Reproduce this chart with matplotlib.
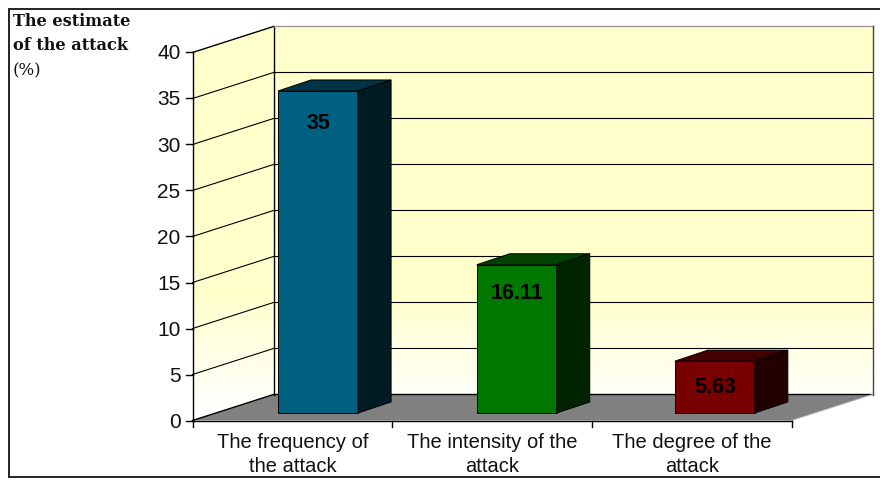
import numpy as np
import matplotlib
matplotlib.use('Agg')
import matplotlib.pyplot as plt
from matplotlib.patches import Polygon, Rectangle

categories = ['The frequency of\nthe attack', 'The intensity of the\nattack', 'The degree of the\nattack']
values = [35, 16.11, 5.63]
value_labels = ['35', '16.11', '5.63']
yticks = [0, 5, 10, 15, 20, 25, 30, 35, 40]
front_colors = ['#006080', '#007800', '#780000']
top_colors = ['#003545', '#004200', '#420000']
side_colors = ['#001c22', '#002400', '#220000']

W, H = 880, 483
# px per data unit
ux = 199.67
uy = 9.2
x0, y0 = 192.5, 420.5
# depth of the 3d box in data units
dx = 81 / ux
dy = 26 / uy
bar_w = 80 / ux
bar_left = [0.311, 1.306, 2.298]
bar_d0 = 0.29
label_drop = [33, 29, 26]

plt.rcParams['font.family'] = ['Liberation Sans', 'DejaVu Sans']
fig = plt.figure(figsize=(W / 100, H / 100), dpi=100)
ax = fig.add_axes([0, 0, 1, 1])
ax.set_xlim(-x0 / ux, (W - x0) / ux)
ax.set_ylim(-(H - y0) / uy, y0 / uy)
ax.axis('off')

to_x = lambda p: (p - x0) / ux
to_y = lambda p: (y0 - p) / uy

# outer frame, runs off the right side of the picture
ax.add_patch(Rectangle((to_x(8.5), to_y(477)), (890 - 8.5) / ux, (477 - 9) / uy,
                       fc='white', ec='#222222', lw=1.4, zorder=0))

# walls with gradient
ymax = yticks[-1]
xmax = 3
grad = np.ones((200, 1, 3))
t = np.clip((np.linspace(0, 1, 200) - 0.68) / 0.30, 0, 1)  # 0 top, 1 bottom
c1 = np.array([255, 255, 204]) / 255
for i in range(3):
    grad[:, 0, i] = c1[i] + (1 - c1[i]) * t

side = Polygon([(0, 0), (dx, dy), (dx, ymax + dy), (0, ymax)], closed=True, fc='none', ec='none')
back = Polygon([(dx, dy), (xmax + dx, dy), (xmax + dx, ymax + dy), (dx, ymax + dy)], closed=True, fc='none', ec='none')
for poly in (side, back):
    ax.add_patch(poly)
    im = ax.imshow(grad, extent=(0, xmax + dx, 0, ymax + dy), aspect='auto', zorder=1)
    im.set_clip_path(poly)
ax.set_xlim(-x0 / ux, (W - x0) / ux)
ax.set_ylim(-(H - y0) / uy, y0 / uy)

# floor
ax.add_patch(Polygon([(0, 0), (dx, dy), (xmax + dx, dy), (xmax, 0)], closed=True, fc='#808080', ec='none', zorder=2))

# gridlines
for v in yticks[1:-1]:
    ax.plot([0, dx, xmax + dx], [v, v + dy, v + dy], color='black', lw=0.8, zorder=3)
ax.plot([0, dx, xmax + dx], [0, dy, dy], color='black', lw=1.0, zorder=3)
ax.plot([dx, dx], [dy, ymax + dy], color='black', lw=1.0, zorder=3)
ax.plot([0, dx], [ymax, ymax + dy], color='black', lw=1.0, zorder=3)
ax.plot([dx, xmax + dx], [ymax + dy, ymax + dy], color='#999999', lw=1.0, zorder=3)
ax.plot([xmax + dx, xmax + dx], [ymax + dy, dy], color='#444444', lw=1.0, zorder=3)
ax.plot([xmax + dx, xmax], [dy, 0], color='#bbbbbb', lw=0.7, zorder=3)

# axes lines and ticks
ax.plot([0, 0], [0, ymax], color='black', lw=1.0, zorder=5)
ax.plot([0, xmax], [0, 0], color='black', lw=1.0, zorder=5)
for v in yticks:
    ax.plot([-7 / ux, 0], [v, v], color='black', lw=1.0, zorder=5)
    ax.text(-12 / ux, v - 1.5 / uy, str(v), ha='right', va='center', fontsize=15, color='#111111', zorder=5)
for i in range(4):
    ax.plot([i, i], [0, -6 / uy], color='black', lw=1.0, zorder=5)
for i, c in enumerate(categories):
    ax.text(i + 0.5, -12.5 / uy, c, ha='center', va='top', fontsize=14.5, color='#111111',
            linespacing=1.3, zorder=5)

# bars
for i, v in enumerate(values):
    l = bar_left[i]
    r = l + bar_w
    b = bar_d0 * dy
    ox = bar_d0 * dx
    ddx = 33 / ux
    ddy = 11 / uy
    t_ = b + v
    ax.add_patch(Rectangle((l + ox, b), bar_w, v, fc=front_colors[i], ec='black', lw=0.7, zorder=6))
    ax.add_patch(Polygon([(l + ox, t_), (l + ox + ddx, t_ + ddy), (r + ox + ddx, t_ + ddy), (r + ox, t_)],
                         closed=True, fc=top_colors[i], ec='black', lw=0.7, zorder=6))
    ax.add_patch(Polygon([(r + ox, b), (r + ox + ddx, b + ddy), (r + ox + ddx, t_ + ddy), (r + ox, t_)],
                         closed=True, fc=side_colors[i], ec='black', lw=0.7, zorder=6))
    ax.text(l + ox + bar_w / 2, t_ - label_drop[i] / uy, value_labels[i],
            ha='center', va='center', fontsize=15.5, fontweight='bold', color='black', zorder=7)

# axis title
serif = ['DejaVu Serif', 'Liberation Serif']
ax.text(to_x(13), to_y(22), 'The estimate', ha='left', va='center', fontsize=11.6, fontweight='bold',
        family=serif, color='#111111')
ax.text(to_x(13), to_y(46), 'of the attack', ha='left', va='center', fontsize=11.6, fontweight='bold',
        family=serif, color='#111111')
ax.text(to_x(13), to_y(71), '(%)', ha='left', va='center', fontsize=12,
        family=serif, color='#111111')

fig.savefig('out.png', dpi=100)
